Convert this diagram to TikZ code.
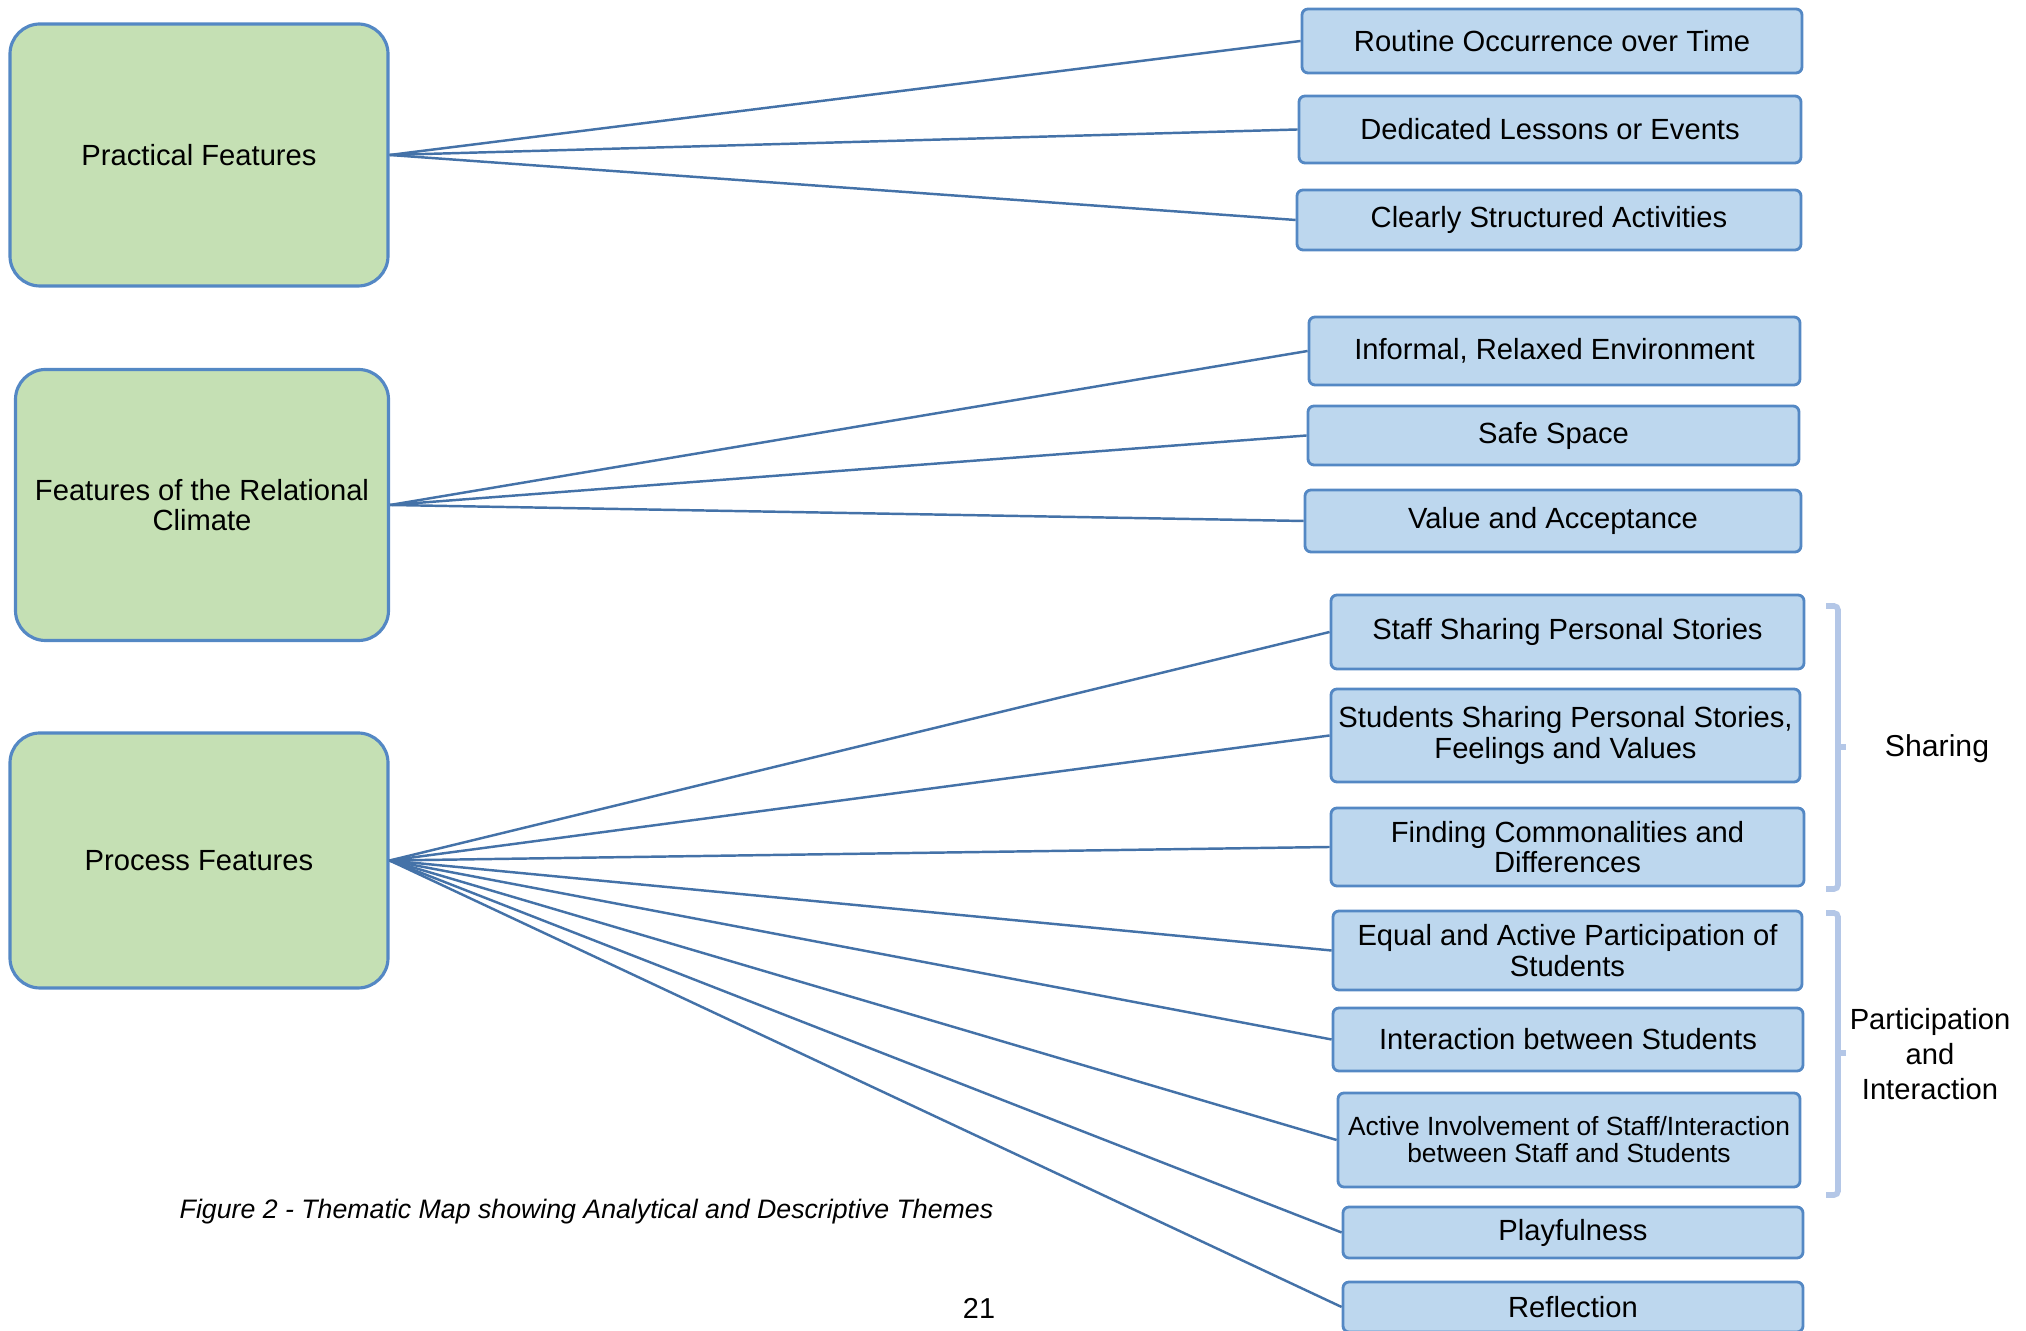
\documentclass[tikz,border=0pt]{standalone}
\usepackage{fontspec}
\setmainfont{Liberation Sans}
\usetikzlibrary{positioning}

\definecolor{mapgreen}{RGB}{197,224,180}
\definecolor{mapblue}{RGB}{189,215,238}
\definecolor{mapedge}{RGB}{84,136,196}
\definecolor{mapline}{RGB}{68,114,168}
\definecolor{mapbrace}{RGB}{180,199,231}

\tikzset{
  mainbox/.style={draw=mapedge, line width=0.9pt, fill=mapgreen, rounded corners=0.3cm, align=center, inner sep=1pt, font=\fontsize{8.3}{8.6}\selectfont},
  themebox/.style={draw=mapedge, line width=0.8pt, fill=mapblue, rounded corners=0.06cm, align=center, inner sep=1pt, font=\fontsize{8.3}{8.6}\selectfont},
  link/.style={draw=mapline, line width=0.7pt},
  bracket/.style={draw=mapbrace, line width=1.6pt, rounded corners=0.04cm},
}

\begin{document}
\begin{tikzpicture}
\useasboundingbox (0,0) rectangle (20.26,13.31);

% main themes
\node (prac) at (1.99,11.76) [mainbox, minimum width=3.78cm, minimum height=2.62cm] {Practical Features};
\node (clim) at (2.02,8.26) [mainbox, minimum width=3.73cm, minimum height=2.71cm] {Features of the Relational\\Climate};
\node (proc) at (1.99,4.705) [mainbox, minimum width=3.78cm, minimum height=2.55cm] {Process Features};

% sub themes
\node (rout) at (15.52,12.90) [themebox, minimum width=5.00cm, minimum height=0.64cm] {Routine Occurrence over Time};
\node (dedi) at (15.50,12.015) [themebox, minimum width=5.02cm, minimum height=0.67cm] {Dedicated Lessons or Events};
\node (clea) at (15.49,11.11) [themebox, minimum width=5.04cm, minimum height=0.60cm] {Clearly Structured Activities};

\node (info) at (15.545,9.80) [themebox, minimum width=4.91cm, minimum height=0.68cm] {Informal, Relaxed Environment};
\node (safe) at (15.535,8.955) [themebox, minimum width=4.91cm, minimum height=0.59cm] {Safe Space};
\node (valu) at (15.53,8.10) [themebox, minimum width=4.96cm, minimum height=0.62cm] {Value and Acceptance};

\node (stst) at (15.675,6.99) [themebox, minimum width=4.73cm, minimum height=0.74cm] {Staff Sharing Personal Stories};
\node (stud) at (15.655,5.955) [themebox, minimum width=4.69cm, minimum height=0.93cm] {Students Sharing Personal Stories,\\Feelings and Values};
\node (find) at (15.675,4.84) [themebox, minimum width=4.73cm, minimum height=0.78cm] {Finding Commonalities and\\Differences};
\node (equa) at (15.675,3.805) [themebox, minimum width=4.69cm, minimum height=0.79cm] {Equal and Active Participation of\\Students};
\node (inte) at (15.68,2.915) [themebox, minimum width=4.70cm, minimum height=0.63cm] {Interaction between Students};
\node (acti) at (15.69,1.91) [themebox, minimum width=4.62cm, minimum height=0.94cm, font=\fontsize{7.5}{7.7}\selectfont] {Active Involvement of Staff/Interaction\\between Staff and Students};
\node (play) at (15.73,0.985) [themebox, minimum width=4.60cm, minimum height=0.51cm] {Playfulness};
\node (refl) at (15.73,0.24) [themebox, minimum width=4.60cm, minimum height=0.50cm] {Reflection};

% connectors
\foreach \t in {rout,dedi,clea}
{
	\draw[link] (prac.east) -- (\t.west);
}
\foreach \t in {info,safe,valu}
{
	\draw[link] (clim.east) -- (\t.west);
}
\foreach \t in {stst,stud,find,equa,inte,acti,play,refl}
{
	\draw[link] (proc.east) -- (\t.west);
}

% groups
\draw[bracket] (18.26,7.25) -- (18.38,7.25) -- (18.38,4.42) -- (18.26,4.42);
\draw[bracket] (18.38,5.84) -- (18.46,5.84);
\draw[bracket] (18.26,4.18) -- (18.38,4.18) -- (18.38,1.36) -- (18.26,1.36);
\draw[bracket] (18.38,2.78) -- (18.46,2.78);
\node (shar) at (19.37,5.82) [font=\fontsize{8.6}{10}\selectfont] {Sharing};
\node (part) at (19.30,2.77) [align=center, font=\fontsize{8.3}{10}\selectfont] {Participation\\and\\Interaction};

\node (capt) at (5.865,1.19) [font=\fontsize{7.6}{9}\selectfont\itshape] {Figure 2 - Thematic Map showing Analytical and Descriptive Themes};
\node (page) at (9.79,0.23) [font=\fontsize{8.2}{9}\selectfont] {21};
\end{tikzpicture}
\end{document}
